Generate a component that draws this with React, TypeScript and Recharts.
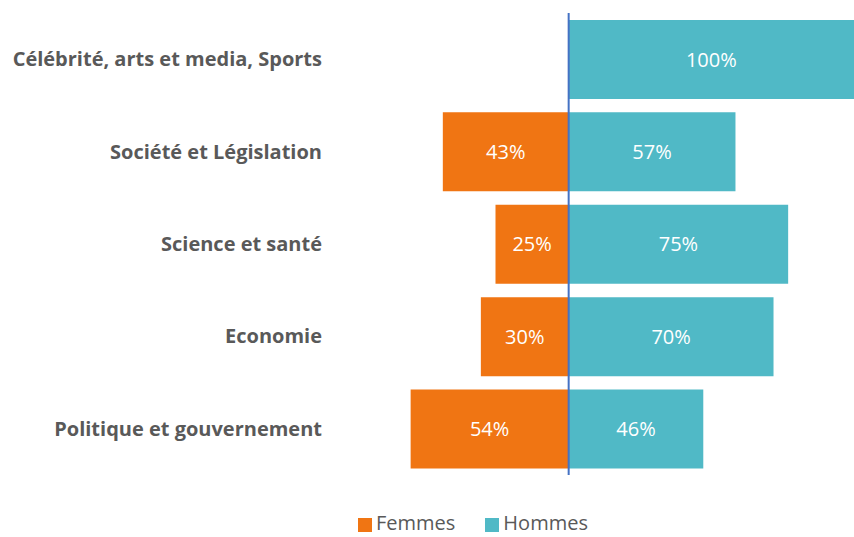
import React from "react";
import { BarChart, Bar, XAxis, YAxis, ReferenceLine, Legend, LabelList } from "recharts";

const categories = [
  "Célébrité, arts et media, Sports",
  "Société et Législation",
  "Science et santé",
  "Economie",
  "Politique et gouvernement",
];
const femmes = [0, 43, 25, 30, 54];
const hommes = [100, 57, 75, 70, 46];

const data = categories.map((c, i) => ({
  name: c,
  Femmes: femmes[i] ? -femmes[i] : null,
  Hommes: hommes[i],
}));

const FONT = "'Open Sans', Lato, sans-serif";
const ORANGE = "#F07513";
const TEAL = "#50B9C6";

const Tick = (props: any) => {
  const { x, y, payload } = props;
  return (
    <text x={x} y={y} dy={7} textAnchor="end" fill="#595959" fontFamily={FONT} fontWeight="bold" fontSize={20}>
      {payload.value}
    </text>
  );
};

const fmt = (v: any) => (v == null || v === 0 ? "" : `${Math.abs(v)}%`);

export default function App() {
  return (
    <div style={{ position: "absolute", left: 0, top: 0, background: "#fff" }}>
      <BarChart
        width={854}
        height={537}
        data={data}
        layout="vertical"
        stackOffset="sign"
        barCategoryGap="7.5%"
        margin={{ top: 13, right: 0, left: 0, bottom: 40 }}
      >
        <XAxis type="number" domain={[-59, 97.5]} hide allowDataOverflow />
        <YAxis
          type="category"
          dataKey="name"
          width={396}
          axisLine={false}
          tickLine={false}
          tickSize={0}
          tickMargin={74}
          tick={<Tick />}
        />
        <Bar dataKey="Femmes" stackId="a" fill={ORANGE} isAnimationActive={false}>
          <LabelList dataKey="Femmes" position="center" formatter={fmt} fill="#fff" fontFamily={FONT} fontSize={20} />
        </Bar>
        <Bar dataKey="Hommes" stackId="a" fill={TEAL} isAnimationActive={false}>
          <LabelList dataKey="Hommes" position="center" formatter={fmt} fill="#fff" fontFamily={FONT} fontSize={20} />
        </Bar>
        <ReferenceLine x={0} stroke="#4472C4" strokeWidth={2} />
        <Legend
          verticalAlign="bottom"
          align="left"
          iconType="square"
          iconSize={14}
          wrapperStyle={{ left: 358, width: 300, fontFamily: FONT, fontSize: 20, lineHeight: "22px", bottom: 3 }}
          formatter={(v: any) => <span style={{ color: "#595959", marginRight: 20 }}>{v}</span>}
        />
      </BarChart>
    </div>
  );
}
